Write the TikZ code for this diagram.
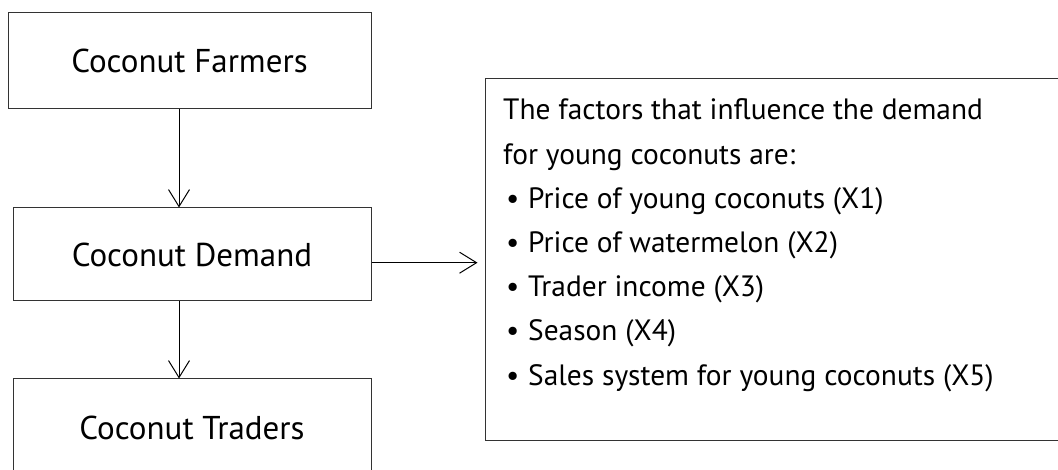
\documentclass[tikz,border=0pt]{standalone}
\usepackage{fontspec}
\setmainfont{PT Sans}
\usetikzlibrary{arrows.meta}
\tikzset{
  box/.style={draw=black!80, line width=1pt, inner sep=0pt, font=\fontsize{33}{38}\selectfont},
  arr/.style={draw=black, line width=1pt, -{Straight Barb[length=17pt,width=21pt,line width=1pt]}},
  listtext/.style={inner sep=0pt, align=left, font=\fontsize{29.4}{44.2}\selectfont}
}
\begin{document}
\begin{tikzpicture}[x=1pt,y=-1pt]
\clip (0,0) rectangle (1058,470);
\useasboundingbox (0,0) rectangle (1058,470);
\fill[white] (0,0) rectangle (1058,470);
\node[box, minimum width=363pt, minimum height=96pt] (b1) at (189.5,61) {\raisebox{-1pt}{Coconut Farmers}};
\node[box, minimum width=358pt, minimum height=93pt] (b2) at (192,254.5) {\raisebox{-3pt}{Coconut Demand}};
\node[box, minimum width=358pt, minimum height=98pt] (b3) at (192,428) {Coconut Traders};
\node[box, minimum width=590pt, minimum height=361pt] (rb) at (780,259.5) {};
\node[listtext, anchor=base west] (rt) at (503,385) {The factors that influence the demand\\
for young coconuts are:\\
\makebox[25pt][l]{\hspace{3pt}\textbullet}Price of young coconuts (X1)\\
\makebox[25pt][l]{\hspace{3pt}\textbullet}Price of watermelon (X2)\\
\makebox[25pt][l]{\hspace{3pt}\textbullet}Trader income (X3)\\
\makebox[25pt][l]{\hspace{3pt}\textbullet}Season (X4)\\
\makebox[25pt][l]{\hspace{3pt}\textbullet}Sales system for young coconuts (X5)};
\coordinate (ax) at (179,0);
\draw[arr] (ax |- b1.south) -- (ax |- b2.north);
\draw[arr] (ax |- b2.south) -- (ax |- b3.north);
\coordinate (ay) at (0,262.7);
\draw[arr, shorten >=7pt] (b2.east |- ay) -- (rb.west |- ay);
\end{tikzpicture}
\end{document}
